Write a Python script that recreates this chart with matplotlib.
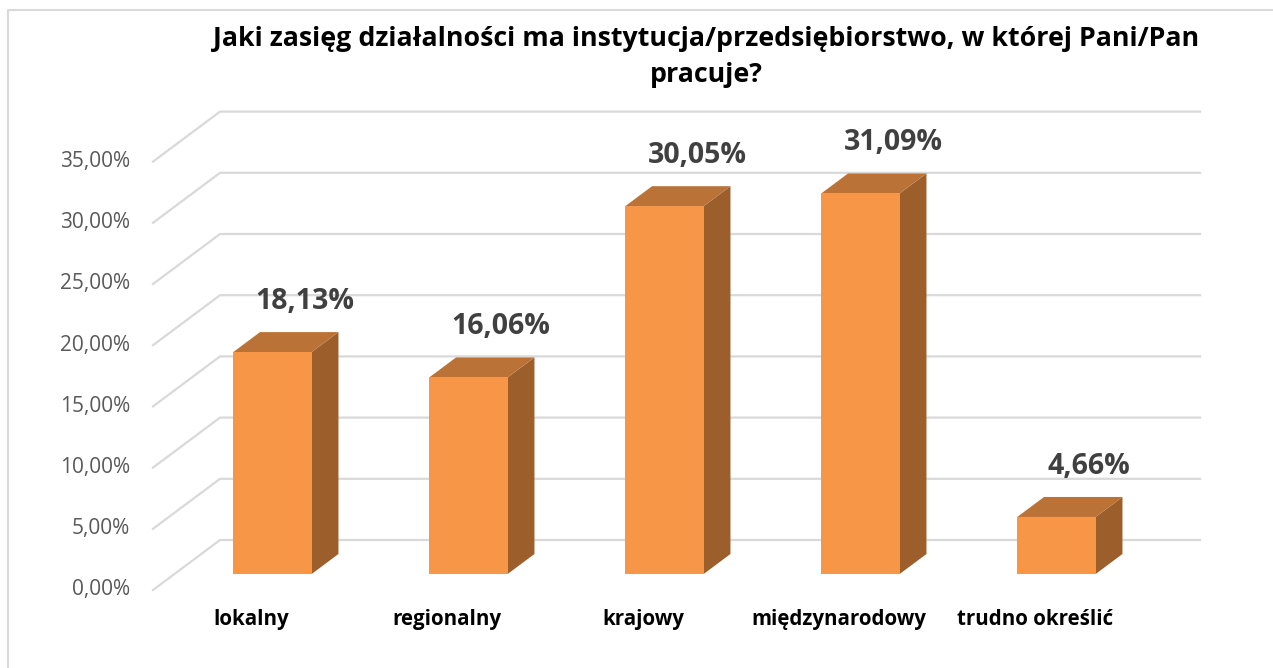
import matplotlib.pyplot as plt
import numpy as np

plt.rcParams['font.family'] = ['Open Sans', 'DejaVu Sans']

# data
categories = ['lokalny', 'regionalny', 'krajowy', 'międzynarodowy', 'trudno określić']
values = [18.13, 16.06, 30.05, 31.09, 4.66]
labels = ['18,13%', '16,06%', '30,05%', '31,09%', '4,66%']
ticks = [0, 5, 10, 15, 20, 25, 30, 35]
tick_labels = ['0,00%', '5,00%', '10,00%', '15,00%', '20,00%', '25,00%', '30,00%', '35,00%']
title = 'Jaki zasięg działalności ma instytucja/przedsiębiorstwo, w której Pani/Pan\npracuje?'

# oblique projection (depth offset of floor, in data units)
DX, DY = 0.342, 4.085
front_c, side_c, top_c = '#F79646', '#9C5F2C', '#BB7236'
grid_c = '#D9D9D9'


def proj(x, y, d):
    # d = depth fraction 0 (front) .. 1 (back wall)
    return x + d * DX, y + d * DY


fig = plt.figure(figsize=(12.73, 6.68), dpi=100)
ax = fig.add_axes([0, 0, 1, 1])
px_x, px_y = 196.0, 12.24
ax.set_xlim(-153 / px_x, (1273 - 153) / px_x)
ax.set_ylim(-78 / px_y, (668 - 78) / px_y)
ax.axis('off')

n = len(categories)

# gridlines: left wall diagonal + back wall horizontal
for t, tl in zip(ticks, tick_labels):
    x0, y0 = proj(0, t, 0)
    x1, y1 = proj(0, t, 1)
    x2, y2 = proj(n, t, 1)
    ax.plot([x0, x1, x2], [y0, y1, y2], color=grid_c, lw=1.6, zorder=1)
    ax.text(-0.117, t, tl, ha='right', va='center', fontsize=15, color='#595959')

# bars
w = 0.40
d0, d1 = 0.32, 0.72
for i, (v, lab) in enumerate(zip(values, labels)):
    xl, xr = i + 0.5 - w / 2, i + 0.5 + w / 2
    # front face
    fx = [proj(xl, 0, d0)[0], proj(xr, 0, d0)[0], proj(xr, v, d0)[0], proj(xl, v, d0)[0]]
    fy = [proj(xl, 0, d0)[1], proj(xr, 0, d0)[1], proj(xr, v, d0)[1], proj(xl, v, d0)[1]]
    # side face
    sx = [proj(xr, 0, d0)[0], proj(xr, 0, d1)[0], proj(xr, v, d1)[0], proj(xr, v, d0)[0]]
    sy = [proj(xr, 0, d0)[1], proj(xr, 0, d1)[1], proj(xr, v, d1)[1], proj(xr, v, d0)[1]]
    # top face
    tx = [proj(xl, v, d0)[0], proj(xr, v, d0)[0], proj(xr, v, d1)[0], proj(xl, v, d1)[0]]
    ty = [proj(xl, v, d0)[1], proj(xr, v, d0)[1], proj(xr, v, d1)[1], proj(xl, v, d1)[1]]
    ax.fill(sx, sy, color=side_c, lw=0, zorder=3)
    ax.fill(tx, ty, color=top_c, lw=0, zorder=3)
    ax.fill(fx, fy, color=front_c, lw=0, zorder=4)
    lx, ly = proj(i + 0.5, v, d1)
    ax.text(lx + 0.03, ly + 2.5, lab, ha='center', va='center', fontsize=20.5,
            fontweight='bold', color='#404040', zorder=5)
    ax.text(i + 0.5, -2.45, categories[i], ha='center', va='center', fontsize=14.8,
            fontweight='bold', color='black')

# title
fig.text(706 / 1273, 1 - 57 / 668, title, ha='center', va='center', fontsize=19.3,
         fontweight='bold', color='black', linespacing=1.5)

# chart border (top and left edges visible)
fig.add_artist(plt.Line2D([8 / 1273, 8 / 1273, 1], [0, 1 - 10 / 668, 1 - 10 / 668],
                          transform=fig.transFigure, color='#D9D9D9', lw=1.5))

fig.savefig('out.png', dpi=100)
